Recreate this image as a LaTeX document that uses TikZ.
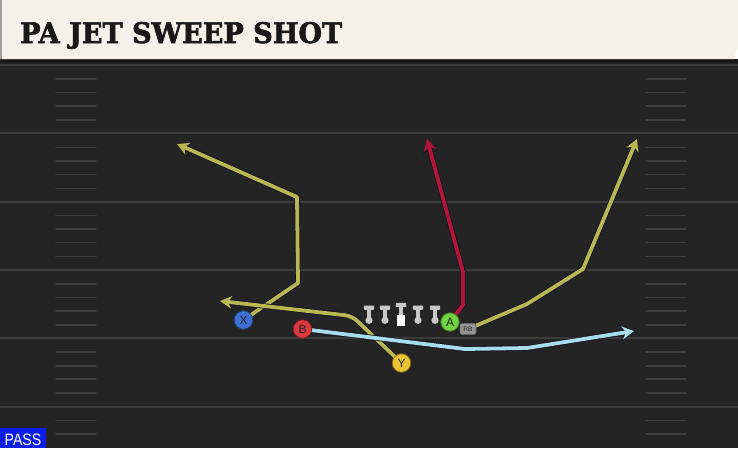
\documentclass[tikz,border=0pt]{standalone}
\usepackage{fontspec}
\usepackage{graphicx}
\setmainfont{Liberation Sans}
\newfontfamily\titlefont{DejaVu Serif}[BoldFeatures={FakeBold=2.2}]
\usetikzlibrary{arrows.meta}
\definecolor{cream}{HTML}{F4F1EA}
\definecolor{fieldbg}{HTML}{242424}
\definecolor{topband}{HTML}{191919}
\definecolor{yardc}{HTML}{3C3C3C}
\definecolor{hashc}{HTML}{3E3E3E}
\definecolor{olive}{HTML}{B9B654}
\definecolor{routered}{HTML}{B5143A}
\definecolor{routeblue}{HTML}{A7DDEA}
\definecolor{outl}{HTML}{141420}
\definecolor{pblue}{HTML}{3E72D6}
\definecolor{pred}{HTML}{DA3A40}
\definecolor{pyellow}{HTML}{EAC232}
\definecolor{pgreen}{HTML}{72D443}
\definecolor{lmc}{HTML}{C8C8C8}
\definecolor{passblue}{HTML}{0A1EE6}
\pgfdeclarelayer{fieldlayer}
\pgfdeclarelayer{routelayer}
\pgfsetlayers{fieldlayer,routelayer,main}
\tikzset{
  yard/.style={draw=yardc, line width=2pt},
  hashm/.style={draw=hashc, line width=1.6pt, line cap=round},
  player/.style={circle, draw=#1!55!black, fill=#1, line width=0.8pt,
    minimum size=18.5pt, inner sep=0pt, text=black!85,
    font=\fontsize{12}{12}\selectfont},
  rbbox/.style={rounded corners=2pt, draw=black!60, fill=black!42, line width=0.6pt,
    minimum width=16pt, minimum height=11pt, inner sep=0pt, text=black!85,
    font=\fontsize{6.5}{6.5}\selectfont},
  lman/.style={fill=lmc},
  rt/.style={line width=3.8pt, draw=#1, line join=round,
    -{Stealth[length=12pt,width=13pt,inset=4pt]},
    preaction={draw=outl, line width=5.4pt, line join=round,
      -{Stealth[length=13.5pt,width=15pt,inset=4.5pt]}}}
}
\begin{document}
\begin{tikzpicture}[x=1pt,y=-1pt]
\useasboundingbox (0,0) rectangle (738,448);
\begin{pgfonlayer}{fieldlayer}
  \fill[fieldbg] (0,59) rectangle (738,448);
  \fill[topband] (0,59) rectangle (738,63);
  \foreach \yy in {65,133.3,201.6,270,338.2,406.5}{
    \draw[yard] (0,\yy) -- (738,\yy);
  }
  \foreach \yy in {65,133.3,201.6,270,338.2}{
    \foreach \oo in {14,27.5,41,55}{
      \draw[hashm] (56,\yy+\oo) -- (96,\yy+\oo);
      \draw[hashm] (646,\yy+\oo) -- (686,\yy+\oo);
    }
  }
  \foreach \oo in {14,27.5}{
    \draw[hashm] (56,406.5+\oo) -- (96,406.5+\oo);
    \draw[hashm] (646,406.5+\oo) -- (686,406.5+\oo);
  }
  % header
  \fill[cream] (0,0) -- (738,0) -- (738,47) -- (734,59) -- (0,59) -- cycle;
  \fill[black!38] (0,0) rectangle (2,59);
\end{pgfonlayer}
% title
\node[anchor=base west, inner sep=0pt, text=black!90] (title) at (20,43)
  {\resizebox{322pt}{21pt}{\titlefont\bfseries PA JET SWEEP SHOT}};
% offensive line
\foreach \xx in {369,385,418,435}{
  \fill[lman, rounded corners=0.8pt] (\xx-5.2,305.5) rectangle (\xx+5.2,309.8);
  \fill[lman] (\xx-2,309.5) rectangle (\xx+2,319);
  \fill[lman] (\xx,320.3) circle (3.6);
}
\fill[lman, rounded corners=0.8pt] (395.8,302.8) rectangle (406.2,307.2);
\fill[lman] (399,307) rectangle (403,315);
\fill[white] (396.8,315) rectangle (405.2,325.8);
% players
\node[player=pblue] (X) at (243.5,320) {X};
\node[player=pred] (B) at (302.5,329) {B};
\node[player=pyellow] (Y) at (401.5,363) {Y};
\node[player=pgreen] (A) at (450,322) {A};
\node[rbbox] (RB) at (468,329) {RB};
% routes
\begin{pgfonlayer}{routelayer}
  \coordinate (xend) at (177,144);
  \coordinate (yend) at (220,301);
  \coordinate (aend) at (427,139);
  \coordinate (rbend) at (637,139);
  \coordinate (bend) at (634,331);
  \draw[rt=olive] (X.center) -- (298,283) -- (297,197) -- (xend);
  \draw[rt=olive, rounded corners=7pt] (Y.center) -- (352,316) -- (yend);
  \draw[rt=routered] (A.center) -- (463,305) -- (463,272) -- (aend);
  \draw[rt=olive] (RB.center) -- (527,304) -- (583,269) -- (rbend);
  \draw[rt=routeblue] (B.center) -- (465,349) -- (527,348) -- (bend);
\end{pgfonlayer}
% pass tag
\fill[passblue] (0,428) rectangle (46,448);
\node[text=white, inner sep=0pt, anchor=base] (pass) at (23,445.5)
  {\scalebox{0.86}[1]{\fontsize{16.5}{16.5}\selectfont PASS}};
\end{tikzpicture}
\end{document}
